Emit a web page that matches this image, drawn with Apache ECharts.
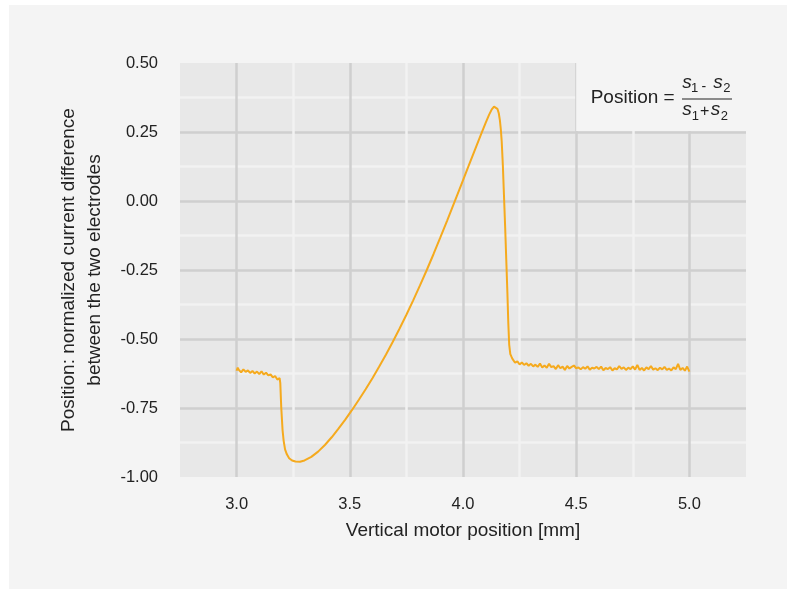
<!DOCTYPE html>
<html>
<head>
<meta charset="utf-8">
<script src="https://cdn.jsdelivr.net/npm/echarts@6/dist/echarts.min.js"></script>
<style>
  html, body { margin: 0; padding: 0; background: #ffffff; }
  #chart { position: absolute; left: 9px; top: 5px; width: 778px; height: 584px; background: #f4f4f4; }
</style>
</head>
<body>
<div id="chart"></div>
<script>
// scan data: [motor position mm, normalized difference]
var startPlateau = [
    [3.00, -0.615], [3.005, -0.604], [3.01, -0.612], [3.02, -0.621], [3.03, -0.610], [3.04, -0.619],
    [3.05, -0.614], [3.06, -0.623], [3.07, -0.616], [3.08, -0.625], [3.09, -0.618],
    [3.10, -0.627], [3.11, -0.617], [3.12, -0.629], [3.13, -0.622], [3.14, -0.632],
    [3.15, -0.628], [3.16, -0.639], [3.17, -0.634], [3.18, -0.647], [3.19, -0.642]
];
var dipAndPeak = [
    [3.193, -0.660], [3.197, -0.745], [3.203, -0.830], [3.208, -0.870], [3.214, -0.900],
    [3.222, -0.918], [3.232, -0.932], [3.245, -0.940], [3.260, -0.944], [3.280, -0.945],
    [3.300, -0.940], [3.330, -0.927], [3.360, -0.908], [3.390, -0.884], [3.420, -0.856],
    [3.450, -0.825], [3.480, -0.792], [3.510, -0.757], [3.540, -0.720], [3.570, -0.682],
    [3.600, -0.642], [3.630, -0.600], [3.660, -0.556], [3.690, -0.510], [3.720, -0.462],
    [3.750, -0.412], [3.780, -0.360], [3.810, -0.306], [3.840, -0.250], [3.870, -0.192],
    [3.900, -0.132], [3.930, -0.071], [3.960, -0.009], [3.990, 0.054], [4.020, 0.117],
    [4.050, 0.180], [4.080, 0.242], [4.100, 0.283], [4.115, 0.312], [4.127, 0.332],
    [4.137, 0.342], [4.145, 0.342], [4.152, 0.334], [4.158, 0.318], [4.163, 0.292],
    [4.167, 0.260], [4.171, 0.215], [4.176, 0.130], [4.181, 0.020], [4.186, -0.090],
    [4.191, -0.210], [4.196, -0.330], [4.200, -0.440], [4.204, -0.520], [4.209, -0.555],
    [4.215, -0.566]
];
var endPlateau = [
    [4.22, -0.574], [4.23, -0.586], [4.24, -0.581], [4.25, -0.592], [4.26, -0.585],
    [4.27, -0.594], [4.28, -0.588], [4.29, -0.597], [4.30, -0.590], [4.31, -0.599],
    [4.32, -0.593], [4.33, -0.601], [4.34, -0.589], [4.35, -0.603], [4.36, -0.596],
    [4.37, -0.604], [4.38, -0.590], [4.39, -0.602], [4.40, -0.598], [4.41, -0.609],
    [4.42, -0.595], [4.43, -0.606], [4.44, -0.600], [4.45, -0.612], [4.46, -0.598],
    [4.47, -0.607], [4.48, -0.601], [4.49, -0.596], [4.50, -0.606], [4.51, -0.603],
    [4.52, -0.610], [4.53, -0.602], [4.54, -0.608], [4.55, -0.599], [4.56, -0.611],
    [4.57, -0.604], [4.58, -0.607], [4.59, -0.601], [4.60, -0.609], [4.61, -0.600],
    [4.62, -0.613], [4.63, -0.605], [4.64, -0.609], [4.65, -0.602], [4.66, -0.614],
    [4.67, -0.606], [4.68, -0.610], [4.69, -0.598], [4.70, -0.608], [4.71, -0.603],
    [4.72, -0.612], [4.73, -0.604], [4.74, -0.609], [4.75, -0.599], [4.76, -0.611],
    [4.77, -0.594], [4.78, -0.612], [4.79, -0.605], [4.80, -0.614], [4.81, -0.603],
    [4.82, -0.609], [4.83, -0.598], [4.84, -0.611], [4.85, -0.606], [4.86, -0.613],
    [4.87, -0.604], [4.88, -0.610], [4.89, -0.601], [4.90, -0.612], [4.91, -0.607],
    [4.92, -0.614], [4.93, -0.603], [4.94, -0.609], [4.95, -0.590], [4.96, -0.612],
    [4.97, -0.605], [4.98, -0.615], [4.99, -0.600], [5.00, -0.618]
];

var xTickLabels = ['3.0', '3.5', '4.0', '4.5', '5.0'];
var yTickLabels = ['0.50', '0.25', '0.00', '-0.25', '-0.50', '-0.75', '-1.00'];

var font = '"Liberation Sans", Arial, Helvetica, sans-serif';
var textColor = '#222222';

var chart = echarts.init(document.getElementById('chart'));

// small text pieces for the formula box (s1 - s2) / (s1 + s2)
function txt(x, y, s, size, italic) {
    return {
        type: 'text', x: x, y: y, z: 100, silent: true,
        style: {
            text: s, fill: textColor, font: (italic ? 'italic ' : '') + size + 'px ' + font,
            verticalAlign: 'middle', align: 'left'
        }
    };
}

var option = {
    animation: false,
    backgroundColor: '#f4f4f4',
    textStyle: { fontFamily: font },
    grid: {
        left: 171, right: 41, top: 58, bottom: 112,
        show: true, backgroundColor: '#e8e8e8', borderWidth: 0
    },
    xAxis: {
        type: 'value',
        min: 2.75, max: 5.25, interval: 0.25,
        name: 'Vertical motor position [mm]',
        nameLocation: 'middle', nameGap: 44,
        nameTextStyle: { fontSize: 19, color: textColor, fontFamily: font },
        axisLine: { show: false },
        axisTick: { show: false },
        axisLabel: {
            fontSize: 16.5, color: textColor, margin: 19, fontFamily: font,
            formatter: function (v) {
                var s = v.toFixed(1);
                return xTickLabels.indexOf(s) >= 0 && Math.abs(v * 2 - Math.round(v * 2)) < 1e-6 ? s : '';
            }
        },
        splitLine: {
            show: true, showMinLine: false, showMaxLine: false,
            lineStyle: { color: ['#cfcfcf', '#f2f2f2'], width: 2.5 }
        }
    },
    yAxis: {
        type: 'value',
        min: -1.0, max: 0.5, interval: 0.125,
        name: 'Position: normalized current difference\nbetween the two electrodes',
        nameLocation: 'middle', nameGap: 72, nameRotate: 90,
        nameTextStyle: { fontSize: 19, color: textColor, lineHeight: 26, align: 'center', fontFamily: font },
        axisLine: { show: false },
        axisTick: { show: false },
        axisLabel: {
            fontSize: 16.5, color: textColor, margin: 22, fontFamily: font,
            formatter: function (v) {
                var s = v.toFixed(2);
                if (s === '-0.00') s = '0.00';
                return yTickLabels.indexOf(s) >= 0 && Math.abs(v * 4 - Math.round(v * 4)) < 1e-6 ? s : '';
            }
        },
        splitLine: {
            show: true, showMinLine: false, showMaxLine: false,
            lineStyle: { color: ['#f2f2f2', '#cfcfcf'], width: 2.5 }
        }
    },
    series: [{
        type: 'line',
        data: startPlateau.concat(dipAndPeak, endPlateau),
        showSymbol: false,
        symbol: 'none',
        lineStyle: { color: '#f5aa1e', width: 2 },
        z: 3,
        markArea: {
            silent: true,
            itemStyle: { color: '#f4f4f4', opacity: 1 },
            data: [[{ xAxis: 4.5, yAxis: 0.5 }, { xAxis: 5.25, yAxis: 0.254 }]]
        }
    }],
    graphic: [{
        type: 'group',
        silent: true,
        z: 100,
        children: [
            txt(581.7, 93, 'Position =', 19, false),
            txt(673.3, 78, 's', 19, true),
            txt(682, 83, '1', 13, false),
            txt(692.5, 82, '-', 14, false),
            txt(704.3, 78, 's', 19, true),
            txt(714.3, 83, '2', 13, false),
            {
                type: 'line', silent: true, z: 100,
                shape: { x1: 673, y1: 94, x2: 723, y2: 94 },
                style: { stroke: textColor, lineWidth: 1.1 }
            },
            txt(673.3, 105, 's', 19, true),
            txt(682.7, 111, '1', 13, false),
            txt(691, 106.5, '+', 16, false),
            txt(701.7, 105, 's', 19, true),
            txt(711.7, 111, '2', 13, false)
        ]
    }]
};

chart.setOption(option);
</script>
</body>
</html>
